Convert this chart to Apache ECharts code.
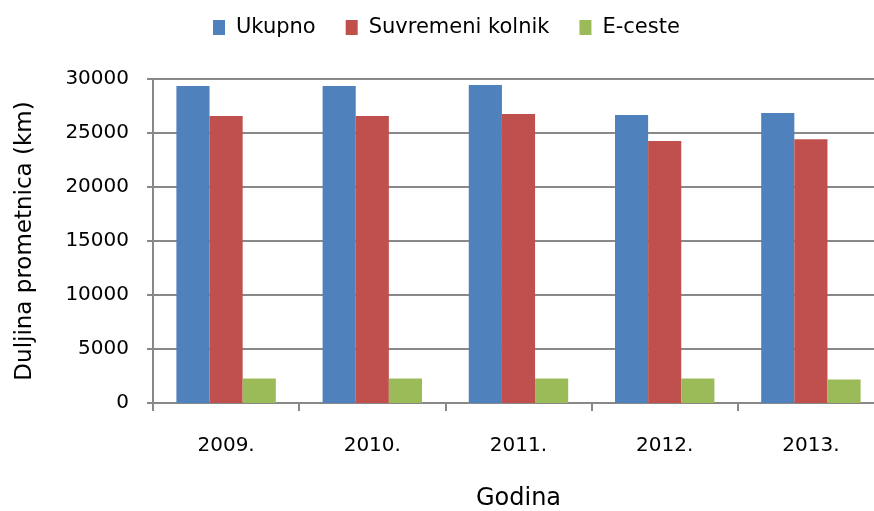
<!DOCTYPE html>
<html>
<head>
<meta charset="utf-8">
<script src="https://cdn.jsdelivr.net/npm/echarts@6/dist/echarts.min.js"></script>
<style>
  html, body { margin: 0; padding: 0; background: #fff; }
  #chart { width: 874px; height: 511px; }
</style>
</head>
<body>
<div id="chart"></div>
<script>
// podaci
let godine = ['2009.', '2010.', '2011.', '2012.', '2013.'];
let ukupno = [29350, 29350, 29440, 26660, 26850];
let suvremeni = [26570, 26570, 26750, 24250, 24430];
let eceste = [2260, 2260, 2260, 2260, 2170];
let yTicks = [0, 5000, 10000, 15000, 20000, 25000, 30000];

let font = '"DejaVu Sans", sans-serif';
let chart = echarts.init(document.getElementById('chart'));

let option = {
  color: ['#4f81bd', '#c0504d', '#9bbb59'],
  animation: false,
  textStyle: { fontFamily: font },
  legend: {
    top: 12,
    left: 208,
    itemWidth: 12,
    itemHeight: 15,
    itemGap: 30,
    icon: 'rect',
    textStyle: { fontSize: 21, color: '#000', fontFamily: font, padding: [0, 0, 0, 6] },
    data: ['Ukupno', 'Suvremeni kolnik', 'E-ceste']
  },
  grid: {
    left: 153,
    right: -10,
    top: 79,
    bottom: 108,
    containLabel: false,
    outerBoundsMode: 'none'
  },
  xAxis: {
    type: 'category',
    data: godine,
    name: 'Godina',
    nameLocation: 'middle',
    nameGap: 84,
    nameTextStyle: { fontSize: 24, color: '#000', fontFamily: font },
    axisLine: { lineStyle: { color: '#888', width: 2 } },
    axisTick: { show: true, length: 8, lineStyle: { color: '#888', width: 2 } },
    axisLabel: { fontSize: 20, color: '#000', margin: 33, fontFamily: font }
  },
  yAxis: {
    type: 'value',
    min: yTicks[0],
    max: yTicks[yTicks.length - 1],
    interval: yTicks[1] - yTicks[0],
    name: 'Duljina prometnica (km)',
    nameLocation: 'middle',
    nameGap: 116,
    nameRotate: 90,
    nameTextStyle: { fontSize: 23, color: '#000', fontFamily: font },
    axisLine: { show: true, lineStyle: { color: '#888', width: 2 } },
    axisTick: { show: true, length: 6, lineStyle: { color: '#888', width: 2 } },
    axisLabel: { fontSize: 20, color: '#000', margin: 24, fontFamily: font, formatter: v => String(v) },
    splitLine: { show: true, lineStyle: { color: '#888', width: 2 } }
  },
  series: [
    { name: 'Ukupno', type: 'bar', data: ukupno, barGap: '0%', barCategoryGap: '32%' },
    { name: 'Suvremeni kolnik', type: 'bar', data: suvremeni, barGap: '0%', barCategoryGap: '32%' },
    { name: 'E-ceste', type: 'bar', data: eceste, barGap: '0%', barCategoryGap: '32%' }
  ]
};

chart.setOption(option);
</script>
</body>
</html>
